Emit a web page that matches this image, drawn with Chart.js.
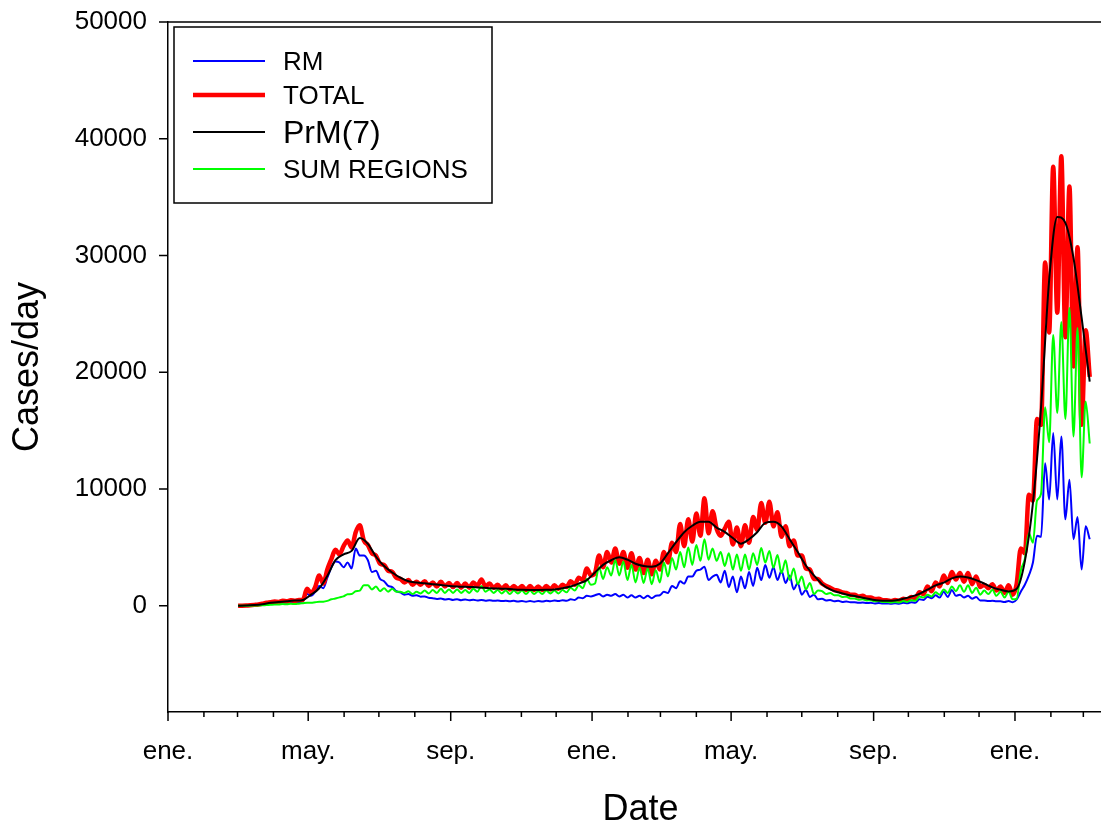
<!DOCTYPE html>
<html>
<head>
<meta charset="utf-8">
<title>Cases/day</title>
<script src="https://cdn.jsdelivr.net/npm/chart.js@4.4.0/dist/chart.umd.min.js"></script>
<style>
    html, body { margin: 0; padding: 0; background: #fff; }
    /* the plot runs a bit past the right edge of the picture, so crop it */
    #chartWrap { width: 1101px; height: 826px; overflow: hidden; }
</style>
</head>
<body>
<div id="chartWrap"><canvas id="casesChart" width="1113" height="826"></canvas></div>
<script>
// Values read off the figure. Daily series are sampled every 3.5 days,
// starting at day 60.5 counted from 1 Jan 2020 (one row = 4 weeks).
const SAMPLE_START = 60.5;
const SAMPLE_STEP = 3.5;

const rmCases = [
    0, 5, 15, 35, 60, 90, 140, 190,                     // mar 2020
    220, 260, 230, 280, 250, 300, 270, 320,
    380, 1000, 850, 1200, 1700, 1500, 2400, 3300,
    3800, 3700, 3300, 3700, 3200, 4900, 4300, 4300,
    3900, 2900, 3000, 2300, 2100, 1700, 1600, 1250,
    1150, 950, 1000, 850, 900, 780, 800, 680,
    650, 580, 620, 540, 580, 500, 560, 480,
    540, 470, 520, 450, 500, 430, 480, 420,
    450, 400, 430, 380, 420, 360, 400, 350,
    400, 350, 400, 360, 420, 380, 450, 400,
    480, 430, 550, 500, 700, 650, 850, 800,
    900, 1000, 800, 950, 850, 1000, 800, 950,           // jan 2021
    700, 900, 700, 850, 650, 850, 650, 850,
    900, 1200, 1100, 1700, 1500, 2100, 1900, 2500,
    2500, 3000, 3100, 3350, 2200, 2500, 2650, 2000,
    3000, 1600, 2500, 1150, 2500, 1500, 2900, 1700,
    3250, 2200, 3500, 2400, 3300, 2200, 3000, 1950,
    2600, 1400, 1950, 950, 1350, 750, 950, 550,
    600, 450, 500, 380, 420, 330, 360, 300,
    300, 250, 280, 230, 250, 200, 230, 190,
    200, 170, 210, 180, 250, 220, 300, 260,
    550, 500, 780, 650, 900, 700, 1200, 750,
    1350, 850, 950, 700, 850, 600, 750, 450,
    450, 400, 430, 380, 380, 320, 400, 300,
    550, 1200, 1800, 2600, 3700, 6000, 5900, 12200,     // jan 2022
    9100, 14800, 9100, 14500, 7400, 10800, 5700, 7600,
    3100, 6800, 5700
];

const totalCases = [
    0, 5, 20, 45, 75, 110, 180, 250,                    // mar 2020
    300, 360, 330, 420, 380, 470, 420, 500,
    520, 1450, 1100, 1600, 2600, 1900, 3100, 4000,
    4800, 4400, 5100, 5600, 5000, 6300, 6900, 5600,
    5200, 4500, 4300, 3600, 3500, 3000, 2900, 2400,
    2300, 2000, 2200, 1800, 2050, 1800, 2100, 1700,
    2000, 1650, 2050, 1650, 1950, 1600, 1950, 1550,
    1900, 1550, 2000, 1700, 2250, 1650, 1900, 1550,
    1800, 1450, 1750, 1400, 1700, 1400, 1700, 1350,
    1700, 1350, 1650, 1350, 1700, 1400, 1750, 1450,
    1800, 1600, 2100, 1800, 2400, 2200, 3200, 2600,
    2800, 4300, 3300, 4600, 3700, 4900, 3600, 4600,     // jan 2021
    3250, 4500, 3100, 4100, 2800, 3950, 2700, 3850,
    3100, 4600, 3700, 5400, 4600, 7000, 5100, 7400,
    5500, 7900, 6000, 9200, 6200, 8100, 6600, 6000,
    6600, 7200, 5250, 6700, 5100, 6900, 5400, 7600,
    6500, 8800, 7100, 8900, 6800, 8000, 5900, 6800,
    5100, 5600, 4300, 4300, 3200, 3100, 2300, 2300,
    1900, 1700, 1550, 1350, 1300, 1150, 1100, 950,
    950, 800, 850, 700, 700, 580, 600, 480,
    480, 400, 500, 420, 600, 520, 750, 650,
    1150, 1000, 1650, 1250, 2000, 1650, 2600, 1950,
    2900, 2250, 2800, 2050, 2800, 1850, 2500, 1600,
    1800, 1500, 1850, 1300, 1650, 1100, 1750, 950,
    1900, 4900, 4500, 9500, 9000, 16000, 15500, 29400,  // jan 2022
    23400, 37600, 25100, 38500, 23000, 35900, 20500, 30700,
    15500, 23600, 19600
];

const sumRegionsCases = [
    0, 0, 5, 10, 15, 20, 40, 60,                        // mar 2020
    80, 100, 100, 140, 130, 170, 150, 180,
    220, 260, 250, 300, 340, 350, 420, 550,
    620, 720, 800, 980, 1000, 1250, 1300, 1750,
    1750, 1400, 1650, 1250, 1500, 1200, 1450, 1200,
    1200, 1100, 1250, 1000, 1200, 1050, 1300, 1050,
    1350, 1100, 1450, 1100, 1400, 1100, 1400, 1100,
    1350, 1100, 1450, 1200, 1700, 1200, 1400, 1100,
    1350, 1050, 1300, 1000, 1300, 1050, 1300, 1000,
    1300, 1000, 1250, 1000, 1300, 1050, 1300, 1050,
    1350, 1150, 1550, 1300, 1750, 1500, 2300, 1800,
    1900, 3300, 2300, 3300, 2600, 3900, 2600, 3800,     // jan 2021
    2200, 3500, 2000, 3250, 1950, 3200, 1850, 3050,
    2000, 3700, 2500, 4100, 3100, 4600, 3300, 5000,
    3500, 5200, 3850, 5700, 3950, 4900, 3850, 4600,
    3400, 4500, 3100, 4400, 3000, 4400, 3100, 4500,
    3500, 4950, 3700, 4700, 3250, 4350, 2800, 3900,
    2200, 3200, 1850, 2500, 1400, 1950, 1000, 1300,
    1250, 1000, 1100, 900, 900, 750, 780, 620,
    620, 520, 560, 460, 470, 380, 400, 320,
    320, 270, 330, 280, 400, 330, 480, 420,
    800, 700, 950, 800, 1150, 950, 1400, 1100,
    1650, 1250, 1750, 1200, 1750, 1100, 1550, 950,
    1300, 1000, 1370, 850, 1200, 700, 1200, 550,
    600, 3000, 4000, 6200, 5400, 9000, 9600, 17000,     // jan 2022
    14000, 23200, 16500, 24300, 16000, 25500, 14500, 23800,
    11000, 17500, 13900
];

// 7-day moving average, read once a week from the same start day
const PRM_STEP = 7;
const prmCases = [
    0, 15, 60, 130, 250, 330, 390, 440, 500, 950,
    1500, 2550, 3900, 4400, 4700, 5800, 5300, 4200, 3400, 2850,
    2400, 2100, 2000, 1930, 1850, 1780, 1700, 1650, 1620, 1600,
    1550, 1500, 1480, 1450, 1400, 1370, 1360, 1360, 1370, 1400,
    1500, 1650, 1900, 2200, 2850, 3500, 3900, 4150, 3950, 3600,
    3400, 3350, 3600, 4500, 5450, 6300, 6850, 7200, 7200, 6700,
    6330, 5800, 5320, 5700, 6300, 7100, 7200, 6800, 5700, 4600,
    3450, 2600, 1850, 1400, 1150, 970, 830, 680, 550, 440,
    420, 450, 600, 780, 1020, 1380, 1750, 1980, 2350, 2500,
    2420, 2200, 1900, 1580, 1370, 1220, 1450, 3800, 8800, 17000,
    27900, 33300, 32800, 29800, 24700, 19200
];

// axis ticks and labels
const yTicks = [0, 10000, 20000, 30000, 40000, 50000];
const monthLabels = ['ene.', '', '', '', 'may.', '', '', '', 'sep.', '', '', ''];
const X_MIN = 0;
const X_MAX = 815.6;
const Y_MIN = -9100;
const Y_MAX = 50000;

const FONT = "'Liberation Sans', Arial, Helvetica, sans-serif";
const DAY_MS = 86400000;
const ORIGIN = Date.UTC(2020, 0, 1);

class CasesChart {
    constructor(canvasId) {
        this.canvas = document.getElementById(canvasId);
        this.monthTicks = this.buildMonthTicks();
        this.init();
    }

    init() {
        Chart.defaults.font.family = FONT;
        Chart.defaults.color = '#000';

        this.chart = new Chart(this.canvas, {
            type: 'line',
            data: { datasets: this.buildDatasets() },
            options: this.buildOptions(),
            plugins: [axisTicksPlugin, boxLegendPlugin]
        });
    }

    // first day of every month on the axis, counted in days from 1 Jan 2020
    buildMonthTicks() {
        const ticks = [];
        for (let year = 2020; year <= 2022; year++) {
            for (let month = 0; month < 12; month++) {
                const day = (Date.UTC(year, month, 1) - ORIGIN) / DAY_MS;
                if (day > X_MAX) return ticks;
                ticks.push({ value: day, label: monthLabels[month] });
            }
        }
        return ticks;
    }

    toPoints(values, step) {
        return values.map((v, i) => ({ x: SAMPLE_START + i * step, y: v }));
    }

    buildDatasets() {
        // order: higher numbers are drawn first (underneath)
        return [
            { label: 'RM', data: this.toPoints(rmCases, SAMPLE_STEP), borderColor: '#0000ff', borderWidth: 2, order: 3 },
            { label: 'TOTAL', data: this.toPoints(totalCases, SAMPLE_STEP), borderColor: '#ff0000', borderWidth: 4.5, order: 2 },
            { label: 'PrM(7)', data: this.toPoints(prmCases, PRM_STEP), borderColor: '#000000', borderWidth: 2, order: 0 },
            { label: 'SUM REGIONS', data: this.toPoints(sumRegionsCases, SAMPLE_STEP), borderColor: '#00ff00', borderWidth: 2, order: 1 }
        ].map(ds => Object.assign(ds, {
            fill: false,
            pointRadius: 0,
            cubicInterpolationMode: 'monotone',
            borderJoinStyle: 'round'
        }));
    }

    buildOptions() {
        const monthTicks = this.monthTicks;
        return {
            responsive: false,
            animation: false,
            events: [],
            layout: { padding: { top: 22, right: 0, bottom: 0, left: 0 } },
            plugins: {
                legend: { display: false },
                tooltip: { enabled: false },
                boxLegend: {
                    offsetX: 6, offsetY: 5, width: 318, height: 176,
                    lineStart: 19, lineEnd: 91, textStart: 109, textShift: 2,
                    rows: [34, 68, 105, 142],
                    fontSizes: [26, 26, 32, 26]
                },
                axisTicks: { monthTicks: monthTicks, majorLength: 9, minorLength: 5, yLength: 9 }
            },
            scales: {
                x: {
                    type: 'linear',
                    min: X_MIN,
                    max: X_MAX,
                    afterBuildTicks: scale => {
                        scale.ticks = monthTicks.map(t => ({ value: t.value }));
                    },
                    afterFit: scale => {
                        scale.height = 114;
                        scale.paddingLeft = 0;
                        scale.paddingRight = 0;
                    },
                    grid: { display: false, drawTicks: false },
                    border: { display: true, color: '#000', width: 1.5 },
                    ticks: {
                        autoSkip: false,
                        maxRotation: 0,
                        padding: 24,
                        font: { size: 26 },
                        callback: (value, index) => monthTicks[index] ? monthTicks[index].label : ''
                    },
                    title: {
                        display: true,
                        text: 'Date',
                        font: { size: 36, lineHeight: 0.8 },
                        padding: { top: 0, bottom: 1.6 }
                    }
                },
                y: {
                    type: 'linear',
                    min: Y_MIN,
                    max: Y_MAX,
                    afterBuildTicks: scale => {
                        scale.ticks = yTicks.map(v => ({ value: v }));
                    },
                    afterFit: scale => {
                        scale.width = 168;
                        scale.paddingTop = 0;
                        scale.paddingBottom = 0;
                    },
                    grid: { display: false, drawTicks: false },
                    border: { display: true, color: '#000', width: 1.5 },
                    ticks: {
                        padding: 21,
                        font: { size: 26 },
                        callback: value => String(value)
                    },
                    title: {
                        display: true,
                        text: 'Cases/day',
                        font: { size: 36, lineHeight: 1.2 },
                        padding: { top: 6, bottom: 0 }
                    }
                }
            }
        };
    }
}

// tick marks pointing out of the plot, plus the top frame line
const axisTicksPlugin = {
    id: 'axisTicks',
    afterDraw(chart, args, opts) {
        const { ctx, chartArea: area, scales: { x, y } } = chart;
        ctx.save();
        ctx.strokeStyle = '#000';
        ctx.lineWidth = 1.5;
        ctx.beginPath();
        ctx.moveTo(area.left, area.top);
        ctx.lineTo(area.right, area.top);

        opts.monthTicks.forEach(t => {
            const px = x.getPixelForValue(t.value);
            const len = t.label ? opts.majorLength : opts.minorLength;
            ctx.moveTo(px, area.bottom);
            ctx.lineTo(px, area.bottom + len);
        });

        yTicks.forEach(v => {
            const py = y.getPixelForValue(v);
            ctx.moveTo(area.left, py);
            ctx.lineTo(area.left - opts.yLength, py);
        });
        ctx.stroke();
        ctx.restore();
    }
};

// boxed legend in the upper left corner of the plot
const boxLegendPlugin = {
    id: 'boxLegend',
    afterDraw(chart, args, opts) {
        const { ctx, chartArea: area } = chart;
        const left = area.left + opts.offsetX;
        const top = area.top + opts.offsetY;

        ctx.save();
        ctx.fillStyle = '#fff';
        ctx.fillRect(left, top, opts.width, opts.height);
        ctx.strokeStyle = '#000';
        ctx.lineWidth = 1.5;
        ctx.strokeRect(left, top, opts.width, opts.height);

        chart.data.datasets.forEach((ds, i) => {
            const rowY = top + opts.rows[i];
            ctx.strokeStyle = ds.borderColor;
            ctx.lineWidth = ds.borderWidth;
            ctx.beginPath();
            ctx.moveTo(left + opts.lineStart, rowY);
            ctx.lineTo(left + opts.lineEnd, rowY);
            ctx.stroke();

            ctx.fillStyle = '#000';
            ctx.font = `${opts.fontSizes[i]}px ${FONT}`;
            ctx.textBaseline = 'middle';
            ctx.textAlign = 'left';
            ctx.fillText(ds.label, left + opts.textStart, rowY + opts.textShift);
        });
        ctx.restore();
    }
};

document.addEventListener('DOMContentLoaded', () => {
    window.casesChart = new CasesChart('casesChart');
});
</script>
</body>
</html>
